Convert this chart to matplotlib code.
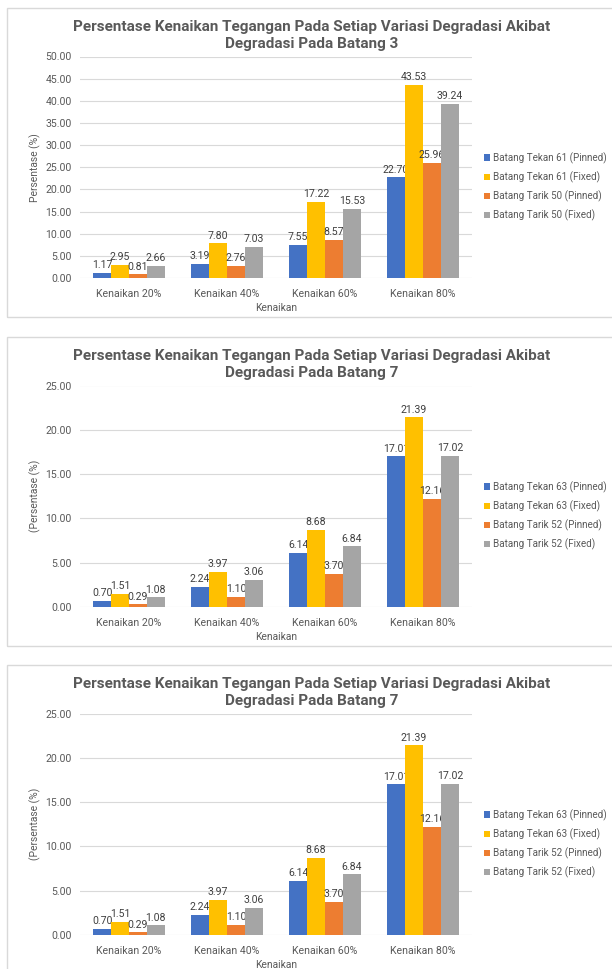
import numpy as np
import matplotlib
matplotlib.use('Agg')
import matplotlib.pyplot as plt
from matplotlib.patches import Rectangle

plt.rcParams['font.family'] = ['Roboto', 'DejaVu Sans']

# Data
kategori = ['Kenaikan 20%', 'Kenaikan 40%', 'Kenaikan 60%', 'Kenaikan 80%']

seri_b3 = ['Batang Tekan 61 (Pinned)', 'Batang Tekan 61 (Fixed)',
           'Batang Tarik 50 (Pinned)', 'Batang Tarik 50 (Fixed)']
tekan61_pinned = [1.17, 3.19, 7.55, 22.70]
tekan61_fixed = [2.95, 7.80, 17.22, 43.53]
tarik50_pinned = [0.81, 2.76, 8.57, 25.96]
tarik50_fixed = [2.66, 7.03, 15.53, 39.24]

seri_b7 = ['Batang Tekan 63 (Pinned)', 'Batang Tekan 63 (Fixed)',
           'Batang Tarik 52 (Pinned)', 'Batang Tarik 52 (Fixed)']
tekan63_pinned = [0.70, 2.24, 6.14, 17.01]
tekan63_fixed = [1.51, 3.97, 8.68, 21.39]
tarik52_pinned = [0.29, 1.10, 3.70, 12.16]
tarik52_fixed = [1.08, 3.06, 6.84, 17.02]

warna = ['#4472C4', '#FFC000', '#ED7D31', '#A5A5A5']
teks = '#595959'

W, H = 612, 969
fig = plt.figure(figsize=(W / 100, H / 100), dpi=100)


def panel(top, judul, ylabel, ymax, seri, nilai):
    # bingkai gambar
    fig.patches.append(Rectangle((7 / W, 1 - (top + 309) / H), 1.0, 309 / H,
                                 transform=fig.transFigure, fill=False,
                                 edgecolor='#d9d9d9', linewidth=1.0))
    ax = fig.add_axes([80 / W, 1 - (top + 270) / H, 392 / W, 221.5 / H])
    x = np.arange(len(kategori))
    lebar = 0.183
    for i, (nama, vals) in enumerate(zip(seri, nilai)):
        pos = x + (i - 1.5) * lebar
        bars = ax.bar(pos, vals, lebar, color=warna[i], label=nama, zorder=3)
        for b, v in zip(bars, vals):
            ax.annotate(f'{v:.2f}', (b.get_x() + b.get_width() / 2, v),
                        xytext=(0, 2), textcoords='offset points',
                        ha='center', va='bottom', fontsize=7.6, color='#404040')
    ax.set_xlim(-0.5, 3.5)
    ax.set_ylim(0, ymax)
    ax.set_yticks(np.arange(0, ymax + 0.1, 5))
    ax.set_yticklabels([f'{t:.2f}' for t in np.arange(0, ymax + 0.1, 5)])
    ax.set_xticks(x)
    ax.set_xticklabels(kategori)
    ax.tick_params(length=0, labelsize=7.6, labelcolor=teks, pad=6)
    ax.tick_params(axis='x', pad=8)
    ax.grid(axis='y', color='#d9d9d9', linewidth=0.8, zorder=0)
    for s in ax.spines.values():
        s.set_visible(False)
    ax.set_xlabel('Kenaikan', fontsize=7.4, color=teks, labelpad=3)
    ax.set_ylabel(ylabel, fontsize=7.4, color=teks, labelpad=3)
    fig.text(312 / W, 1 - (top + 27.5) / H, judul, ha='center', va='center',
             fontsize=11, fontweight='bold', color=teks, linespacing=1.2)
    ax.legend(loc='upper left', bbox_to_anchor=(484 / W, 1 - (top + 144) / H),
              bbox_transform=fig.transFigure, frameon=False, fontsize=7.1,
              labelcolor=teks, handlelength=0.6, handleheight=0.6,
              handletextpad=0.3, labelspacing=0.78, borderpad=0,
              borderaxespad=0)
    return ax


judul3 = 'Persentase Kenaikan Tegangan Pada Setiap Variasi Degradasi Akibat\nDegradasi Pada Batang 3'
judul7 = 'Persentase Kenaikan Tegangan Pada Setiap Variasi Degradasi Akibat\nDegradasi Pada Batang 7'

panel(8, judul3, 'Persentase (%)', 50, seri_b3,
      [tekan61_pinned, tekan61_fixed, tarik50_pinned, tarik50_fixed])
panel(337, judul7, '(Persentase (%)', 25, seri_b7,
      [tekan63_pinned, tekan63_fixed, tarik52_pinned, tarik52_fixed])
panel(665, judul7, '(Persentase (%)', 25, seri_b7,
      [tekan63_pinned, tekan63_fixed, tarik52_pinned, tarik52_fixed])

fig.savefig('out.png', dpi=100, facecolor='white')
